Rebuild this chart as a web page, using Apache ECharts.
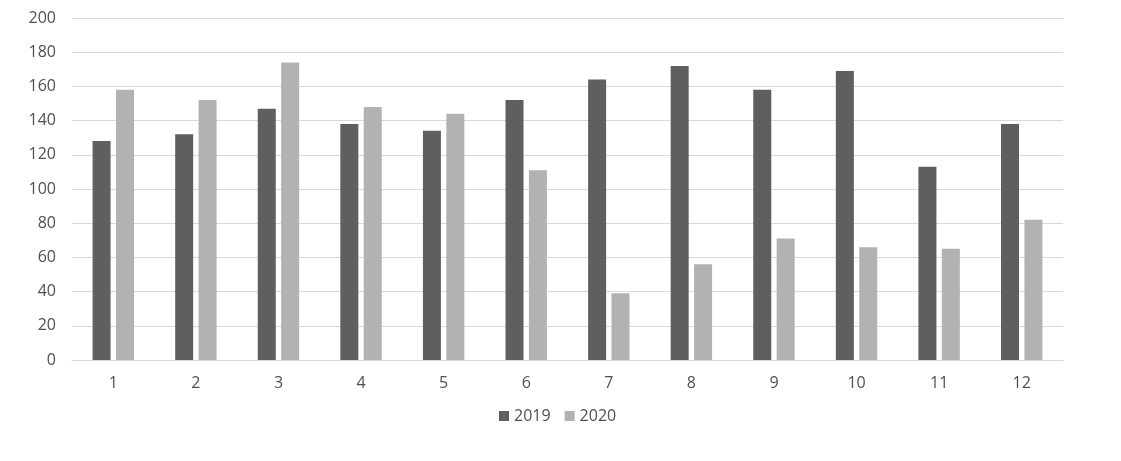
<!DOCTYPE html>
<html>
<head>
<meta charset="utf-8">
<script src="https://cdn.jsdelivr.net/npm/echarts@6/dist/echarts.min.js"></script>
<style>
  html, body { margin: 0; padding: 0; background: #fff; }
  #main { width: 1121px; height: 461px; }
</style>
</head>
<body>
<div id="main"></div>
<script>
// 数据
var months = ['1', '2', '3', '4', '5', '6', '7', '8', '9', '10', '11', '12'];
var data2019 = [128, 132, 147, 138, 134, 152, 164, 172, 158, 169, 113, 138];
var data2020 = [158, 152, 174, 148, 144, 111, 39, 56, 71, 66, 65, 82];
var yTicks = [0, 20, 40, 60, 80, 100, 120, 140, 160, 180, 200];

var myChart = echarts.init(document.getElementById('main'));
var textColor = '#505050';
var font = '"Open Sans", "Liberation Sans", sans-serif';

var option = {
    animation: false,
    grid: { left: 72, right: 58, top: 18, bottom: 101 },
    legend: {
        bottom: 32,
        left: 494,
        itemWidth: 10,
        itemHeight: 10,
        itemGap: 14,
        icon: 'rect',
        textStyle: { color: textColor, fontSize: 16, fontFamily: font },
        data: ['2019', '2020']
    },
    xAxis: {
        type: 'category',
        data: months,
        axisTick: { show: false },
        axisLine: { lineStyle: { color: '#d9d9d9' } },
        axisLabel: { color: textColor, fontSize: 16, fontFamily: font, margin: 15 }
    },
    yAxis: {
        type: 'value',
        min: yTicks[0],
        max: yTicks[yTicks.length - 1],
        interval: 20,
        axisLine: { show: false },
        axisTick: { show: false },
        splitLine: { lineStyle: { color: '#d9d9d9' } },
        axisLabel: { color: textColor, fontSize: 16, fontFamily: font, margin: 16 }
    },
    series: [
        {
            name: '2019',
            type: 'bar',
            data: data2019,
            barWidth: 18,
            barGap: '30%',
            itemStyle: { color: '#5f5f5f' }
        },
        {
            name: '2020',
            type: 'bar',
            data: data2020,
            barWidth: 18,
            itemStyle: { color: '#b2b2b2' }
        }
    ]
};
myChart.setOption(option);
</script>
</body>
</html>
